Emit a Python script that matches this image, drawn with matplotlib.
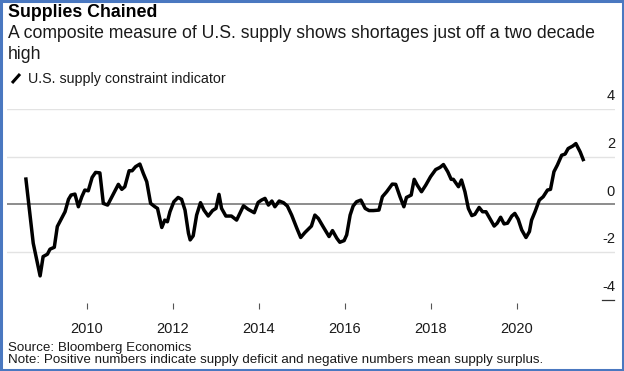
import matplotlib
matplotlib.use("Agg")
import matplotlib.pyplot as plt
from matplotlib.patches import Rectangle
from matplotlib.lines import Line2D

plt.rcParams['font.family'] = ['Liberation Sans', 'DejaVu Sans']

# decimal year of each reading and indicator value
years = [2008.58, 2008.75, 2008.91, 2008.98, 2009.08, 2009.14, 2009.24, 2009.31, 2009.41, 2009.49,
         2009.57, 2009.63, 2009.72, 2009.80, 2009.88, 2009.95, 2010.03, 2010.12, 2010.20, 2010.30,
         2010.38, 2010.48, 2010.59, 2010.73, 2010.81, 2010.88, 2010.98, 2011.05, 2011.13, 2011.23,
         2011.31, 2011.39, 2011.48, 2011.58, 2011.64, 2011.74, 2011.81, 2011.87, 2011.93, 2012.02,
         2012.12, 2012.20, 2012.28, 2012.36, 2012.40, 2012.47, 2012.55, 2012.64, 2012.72, 2012.82,
         2012.92, 2013.00, 2013.07, 2013.13, 2013.23, 2013.36, 2013.48, 2013.64, 2013.75, 2013.89,
         2013.98, 2014.06, 2014.14, 2014.22, 2014.30, 2014.37, 2014.47, 2014.57, 2014.66, 2014.76,
         2014.88, 2014.97, 2015.07, 2015.22, 2015.30, 2015.38, 2015.50, 2015.63, 2015.71, 2015.81,
         2015.88, 2015.98, 2016.04, 2016.12, 2016.19, 2016.27, 2016.37, 2016.47, 2016.56, 2016.66,
         2016.79, 2016.87, 2016.97, 2017.10, 2017.18, 2017.28, 2017.37, 2017.43, 2017.54, 2017.61,
         2017.68, 2017.78, 2017.88, 2017.99, 2018.11, 2018.21, 2018.29, 2018.39, 2018.47, 2018.52,
         2018.64, 2018.71, 2018.79, 2018.87, 2018.95, 2019.02, 2019.12, 2019.20, 2019.28, 2019.37,
         2019.47, 2019.54, 2019.62, 2019.70, 2019.78, 2019.88, 2019.95, 2020.03, 2020.11, 2020.21,
         2020.29, 2020.34, 2020.42, 2020.52, 2020.61, 2020.71, 2020.78, 2020.86, 2020.94, 2021.04,
         2021.12, 2021.19, 2021.30, 2021.37, 2021.47, 2021.54]
values = [1.06, -1.63, -3.00, -2.19, -2.09, -1.88, -1.80, -0.93, -0.59, -0.31,
          0.21, 0.39, 0.43, -0.10, 0.32, 0.60, 0.57, 1.13, 1.34, 1.32,
          0.04, -0.03, 0.35, 0.84, 0.63, 0.74, 1.41, 1.41, 1.58, 1.69,
          1.30, 0.95, 0.04, -0.10, -0.17, -0.97, -0.66, -0.73, -0.31, 0.11,
          0.29, 0.21, -0.24, -1.21, -1.49, -1.32, -0.45, 0.07, -0.24, -0.49,
          -0.26, -0.17, 0.42, -0.17, -0.49, -0.49, -0.66, -0.06, -0.21, -0.35,
          0.08, 0.18, 0.25, -0.03, 0.14, -0.10, 0.14, 0.07, -0.07, -0.45,
          -1.00, -1.39, -1.18, -0.91, -0.45, -0.59, -0.96, -1.35, -1.10, -1.42,
          -1.59, -1.52, -1.28, -0.45, -0.07, 0.11, 0.18, -0.17, -0.26, -0.26,
          -0.24, 0.32, 0.53, 0.85, 0.84, 0.32, -0.10, 0.29, 0.39, 1.05,
          0.81, 0.53, 0.81, 1.16, 1.46, 1.55, 1.67, 1.37, 1.05, 1.05,
          0.74, 1.02, 0.53, -0.17, -0.47, -0.42, -0.13, -0.31, -0.31, -0.59,
          -0.91, -0.79, -0.54, -0.82, -0.79, -0.49, -0.38, -0.63, -1.07, -1.39,
          -1.14, -0.66, -0.31, 0.18, 0.32, 0.60, 0.63, 1.37, 1.65, 2.06,
          2.11, 2.34, 2.45, 2.55, 2.20, 1.88]

x_ticks = [2010, 2012, 2014, 2016, 2018, 2020]
y_ticks = [4, 2, 0, -2, -4]

W, H = 624, 371
fig = plt.figure(figsize=(W / 100, H / 100), dpi=100)

def fx(px):
    return px / W

def fy(py):
    return 1 - py / H

ax = fig.add_axes([fx(7), fy(303.3), fx(615 - 7), fy(109) - fy(303.3)])
ax.set_xlim(2008.14, 2022.28)
ax.set_ylim(-4.15, 4.0)

for s in ax.spines.values():
    s.set_visible(False)

# gridlines
for v in [4, 2, -2]:
    ax.axhline(v, color='#e3e3e3', lw=1.0, zorder=1)
ax.axhline(0, color='#8c8c8c', lw=1.4, zorder=2)
ytr = ax.get_yaxis_transform()
ax.plot([0.978, 0.998], [-4, -4], transform=ytr, color='#333333', lw=0.9, clip_on=False)

ax.plot(years, values, color='black', lw=2.5, zorder=3, clip_on=False)

ax.set_yticks([])
ax.set_xticks(x_ticks)
ax.set_xticklabels([str(t) for t in x_ticks])
ax.tick_params(axis='x', length=4.3, width=0.8, color='#555555', pad=9,
               labelsize=10.5, labelcolor='#1a1a1a')

for v in y_ticks:
    ax.annotate(str(v), xy=(1.0, v), xycoords=ytr, xytext=(0, 4),
                textcoords='offset points', ha='right', va='bottom',
                fontsize=10.5, color='#1a1a1a')

# header
fig.text(fx(8), fy(17), 'Supplies Chained', fontsize=12.8, fontweight='bold',
         va='baseline', ha='left', color='black')
fig.text(fx(8), fy(38), 'A composite measure of U.S. supply shows shortages just off a two decade',
         fontsize=12.7, va='baseline', ha='left', color='#1a1a1a')
fig.text(fx(8), fy(59), 'high', fontsize=12.7, va='baseline', ha='left', color='#1a1a1a')
fig.add_artist(Line2D([fx(12), fx(20)], [fy(83), fy(74)], color='black', lw=2.2,
                      solid_capstyle='butt'))
fig.text(fx(28), fy(83), 'U.S. supply constraint indicator', fontsize=10.3,
         va='baseline', ha='left', color='#1a1a1a')

# footer
fig.text(fx(8), fy(351), 'Source: Bloomberg Economics', fontsize=9.6,
         va='baseline', ha='left', color='#1a1a1a')
fig.text(fx(8), fy(362.5), 'Note: Positive numbers indicate supply deficit and negative numbers mean supply surplus.',
         fontsize=9.6, va='baseline', ha='left', color='#1a1a1a')

# blue frame
fig.add_artist(Rectangle((fx(1), fy(370)), fx(622), fy(1) - fy(370), fill=False,
                         edgecolor='#4a78c0', lw=2.2))

fig.savefig('out.png', dpi=100)
